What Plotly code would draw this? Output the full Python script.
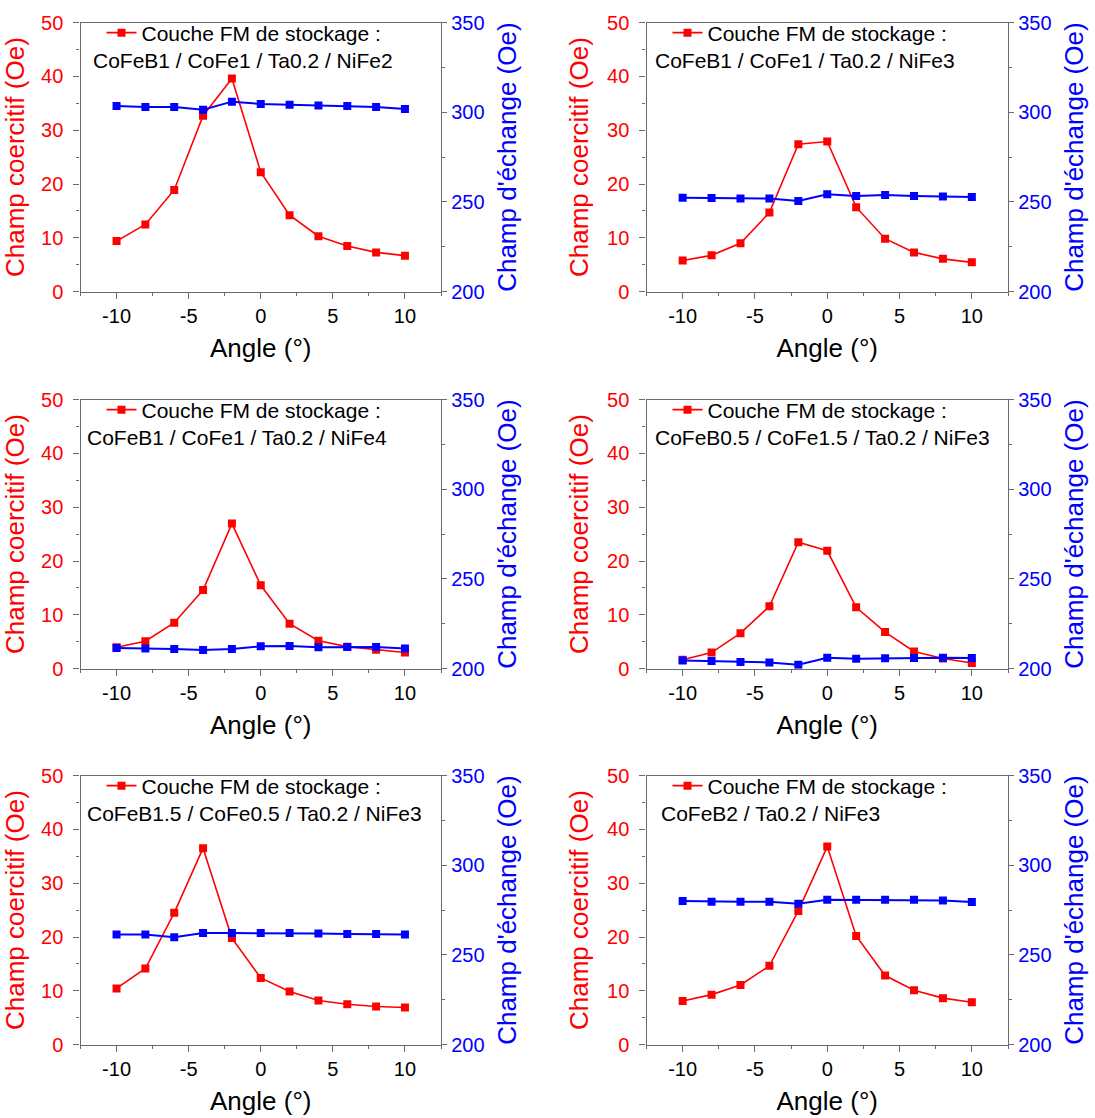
import plotly.graph_objects as go

# ---------------- data ----------------
angles = [-10, -8, -6, -4, -2, 0, 2, 4, 6, 8, 10]
x_tick_vals = [-10, -5, 0, 5, 10]
x_tick_text = ["-10", "-5", "0", "5", "10"]

stack_labels = [
    "CoFeB1 / CoFe1 / Ta0.2 / NiFe2",
    "CoFeB1 / CoFe1 / Ta0.2 / NiFe3",
    "CoFeB1 / CoFe1 / Ta0.2 / NiFe4",
    "CoFeB0.5 / CoFe1.5 / Ta0.2 / NiFe3",
    "CoFeB1.5 / CoFe0.5 / Ta0.2 / NiFe3",
    "CoFeB2 / Ta0.2 / NiFe3",
]

hc_1 = [9.4, 12.5, 18.9, 32.7, 39.6, 22.2, 14.2, 10.3, 8.5, 7.3, 6.7]
hc_2 = [5.8, 6.75, 9.0, 14.7, 27.4, 27.9, 15.7, 9.85, 7.3, 6.1, 5.45]
hc_3 = [4.0, 5.1, 8.55, 14.6, 26.95, 15.5, 8.36, 5.2, 4.1, 3.5, 3.0]
hc_4 = [1.67, 3.0, 6.6, 11.6, 23.5, 21.9, 11.4, 6.8, 3.2, 1.9, 1.05]
hc_5 = [10.45, 14.15, 24.5, 36.5, 19.8, 12.4, 9.9, 8.2, 7.5, 7.1, 6.9]
hc_6 = [8.1, 9.3, 11.1, 14.65, 24.85, 36.8, 20.2, 12.85, 10.1, 8.65, 7.9]

hex_1 = [303.5, 302.9, 302.9, 301.4, 305.9, 304.6, 304.2, 303.8, 303.5, 302.9, 301.8]
hex_2 = [252.4, 252.2, 252.0, 251.9, 250.6, 254.3, 253.3, 253.9, 253.3, 253.0, 252.8]
hex_3 = [211.5, 211.3, 211.0, 210.4, 211.0, 212.5, 212.6, 211.9, 212.1, 212.1, 211.3]
hex_4 = [204.6, 204.3, 203.7, 203.5, 202.2, 206.1, 205.6, 205.8, 205.9, 206.1, 205.9]
hex_5 = [261.4, 261.4, 259.9, 262.3, 262.2, 262.2, 262.2, 262.0, 261.7, 261.7, 261.4]
hex_6 = [280.1, 279.7, 279.7, 279.7, 278.6, 280.8, 280.7, 280.7, 280.7, 280.3, 279.5]

hc_series = [hc_1, hc_2, hc_3, hc_4, hc_5, hc_6]
hex_series = [hex_1, hex_2, hex_3, hex_4, hex_5, hex_6]

legend_title = "Couche FM de stockage :"
x_title = "Angle (°)"
y1_title = "Champ coercitif (Oe)"
y2_title = "Champ d'échange (Oe)"

# ---------------- layout geometry (pixels) ----------------
W, H = 1095, 1118
col_px = [(80.5, 441.0), (646.5, 1008.0)]
row_px = [(22.5, 291.7), (399.5, 668.7), (775.5, 1044.7)]
label_dx = [10, 6, 4, 6, 4, 12]

RED = "#FF0000"
BLUE = "#0000FF"
AXC = "#6a6a6a"
FONT = "Arial, Liberation Sans, sans-serif"


def fx(px):
    return px / W


def fy(py):
    return 1 - py / H


fig = go.Figure()
layout = dict(
    width=W, height=H,
    margin=dict(l=0, r=0, t=0, b=0, autoexpand=False),
    paper_bgcolor="white", plot_bgcolor="white",
    font=dict(family=FONT, color="black"),
    annotations=[],
)

for i in range(6):
    r, c = divmod(i, 2)
    n = i + 1
    xa = "x" if n == 1 else f"x{n}"
    ya = "y" if 2 * i + 1 == 1 else f"y{2 * i + 1}"
    yb = f"y{2 * i + 2}"
    leg = "legend" if n == 1 else f"legend{n}"
    x0, x1 = col_px[c]
    top, bot = row_px[r]

    fig.add_trace(go.Scatter(
        x=angles, y=hc_series[i], xaxis=xa, yaxis=ya,
        mode="lines+markers", name=legend_title, legend=leg,
        line=dict(color=RED, width=1.6),
        marker=dict(symbol="square", size=8, color=RED),
        showlegend=True,
    ))
    fig.add_trace(go.Scatter(
        x=angles, y=hex_series[i], xaxis=xa, yaxis=yb,
        mode="lines+markers", name="Hex",
        line=dict(color=BLUE, width=2),
        marker=dict(symbol="square", size=8, color=BLUE),
        showlegend=False,
    ))

    xkey = "xaxis" if n == 1 else f"xaxis{n}"
    ykey = "yaxis" if 2 * i + 1 == 1 else f"yaxis{2 * i + 1}"
    y2key = f"yaxis{2 * i + 2}"

    layout[xkey] = dict(
        domain=[fx(x0), fx(x1)], anchor=ya, range=[-12.5, 12.5], automargin=False,
        tickmode="array", tickvals=x_tick_vals, ticktext=x_tick_text,
        ticks="outside", ticklen=6, tickwidth=1.2, tickcolor=AXC,
        minor=dict(ticks="outside", ticklen=3, tick0=0, dtick=2.5, tickcolor=AXC, tickwidth=1.2),
        showline=True, linecolor=AXC, linewidth=1.4, mirror=True,
        showgrid=False, zeroline=False,
        tickfont=dict(size=20, color="black", family=FONT),
        title=dict(text=x_title, font=dict(size=26, color="black", family=FONT), standoff=12),
    )
    layout[ykey] = dict(
        domain=[fy(bot), fy(top)], anchor=xa, range=[0, 50], automargin=False,
        tick0=0, dtick=10, ticks="outside", ticklen=6, tickwidth=1.2, tickcolor=AXC,
        minor=dict(ticks="outside", ticklen=3, dtick=5, tickcolor=AXC, tickwidth=1.2),
        showline=True, linecolor=AXC, linewidth=1.4, mirror=False,
        showgrid=False, zeroline=False, ticklabelstandoff=6,
        tickfont=dict(size=20, color=RED, family=FONT),
        title=dict(text=y1_title, font=dict(size=26, color=RED, family=FONT), standoff=10),
    )
    layout[y2key] = dict(
        domain=[fy(bot), fy(top)], anchor=xa, overlaying=ya, side="right",
        range=[200, 350], tick0=200, dtick=50, automargin=False,
        ticks="outside", ticklen=5, tickwidth=1.2, tickcolor=AXC,
        minor=dict(ticks="outside", ticklen=3, dtick=25, tickcolor=AXC, tickwidth=1.2),
        showline=True, linecolor=AXC, linewidth=1.4,
        showgrid=False, zeroline=False,
        tickfont=dict(size=20, color=BLUE, family=FONT),
        title=dict(text=y2_title, font=dict(size=26, color=BLUE, family=FONT), standoff=14),
    )
    layout[leg] = dict(
        x=fx(x0 + 21), y=fy(top - 10), xanchor="left", yanchor="top",
        xref="paper", yref="paper",
        bgcolor="rgba(0,0,0,0)", borderwidth=0,
        font=dict(size=21, color="black", family=FONT),
        itemclick=False,
    )
    layout["annotations"].append(dict(
        text=stack_labels[i], xref="paper", yref="paper",
        x=fx(x0 + label_dx[i]), y=fy(top + 37.5),
        xanchor="left", yanchor="middle", showarrow=False,
        font=dict(size=21, color="black", family=FONT),
    ))

fig.update_layout(**layout)
fig.write_html(
    "out.html",
    config={"displayModeBar": False},
    post_script="document.body.style.margin='0';document.body.style.overflow='hidden';",
)
